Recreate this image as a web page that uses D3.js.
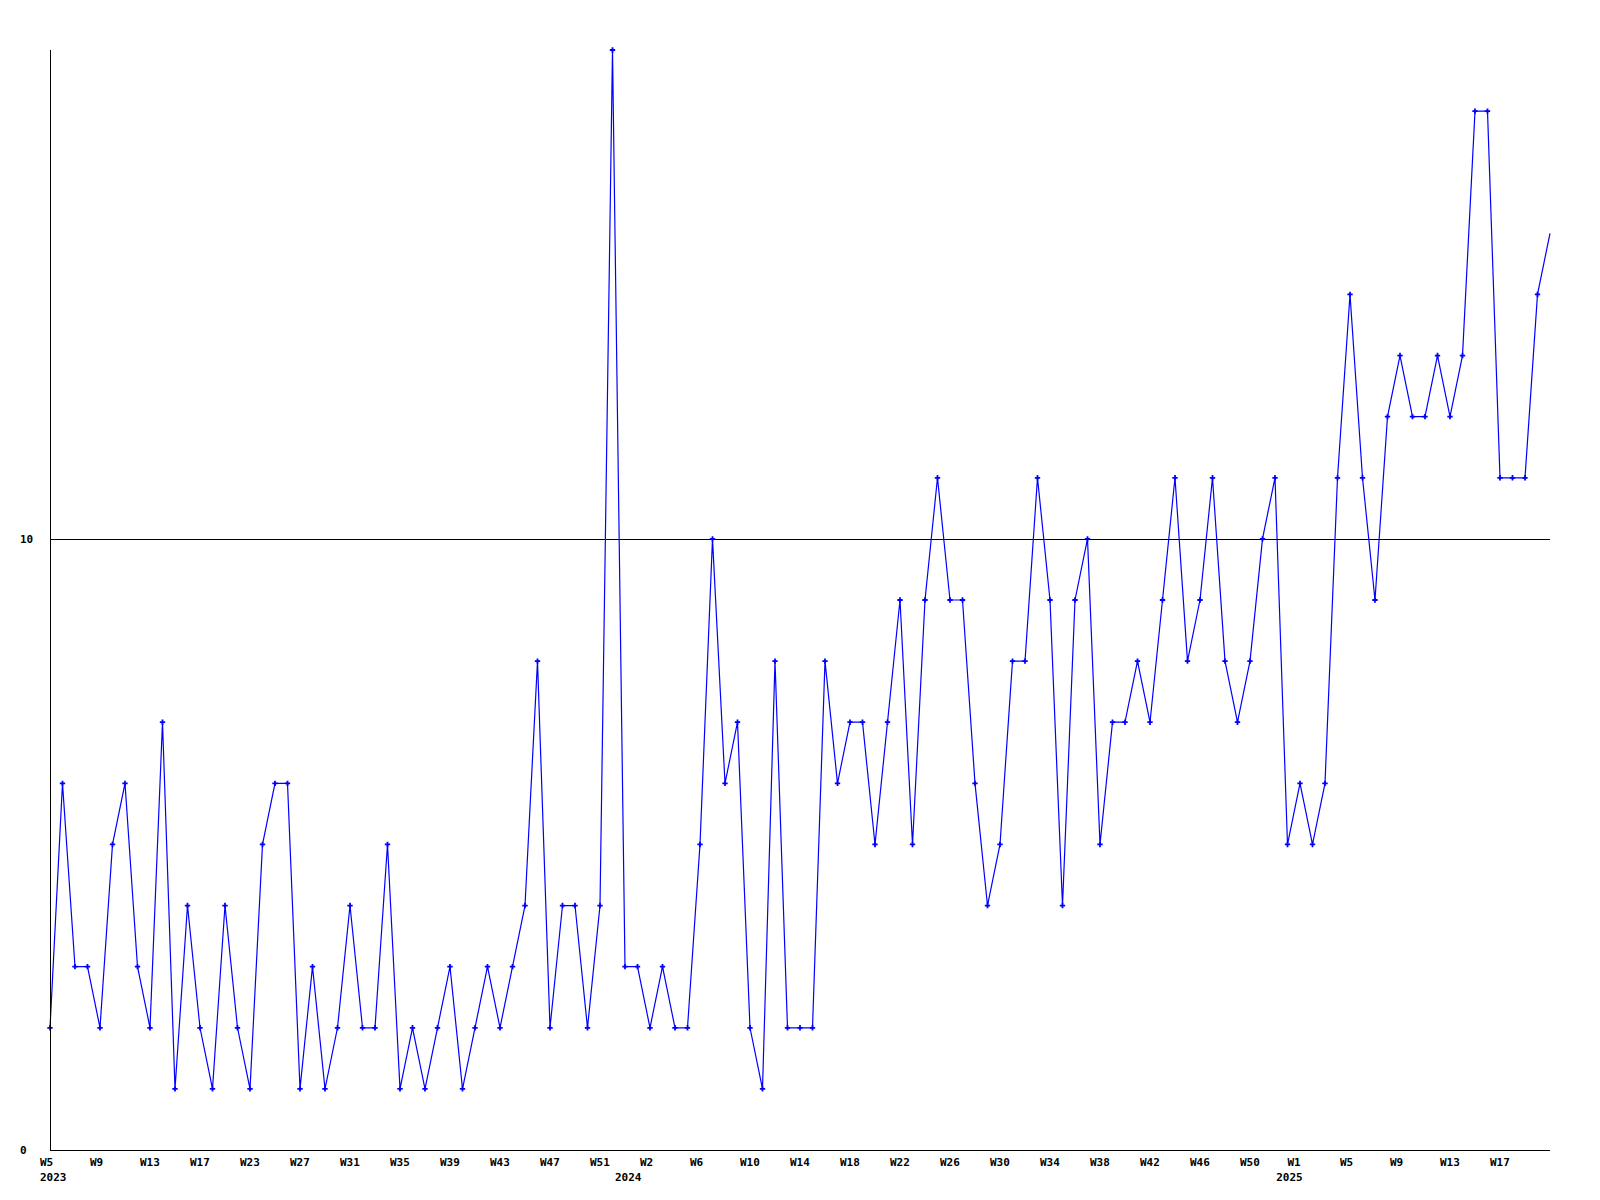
<!DOCTYPE html>
<html>
<head>
<meta charset="utf-8">
<script src="https://cdn.jsdelivr.net/npm/d3@7"></script>
<style>
  html, body { margin: 0; padding: 0; background: #ffffff; }
  svg { display: block; }
  text { font-family: "DejaVu Sans Mono", "Liberation Mono", monospace; font-weight: bold; font-size: 11px; fill: #000; }
</style>
</head>
<body>
<svg id="chart" width="1600" height="1200"></svg>
<script>
// weekly counts, one per point (the last one is the current, partial week)
const values = [
  2, 6, 3, 3, 2, 5, 6, 3, 2, 7, 1, 4, 2, 1, 4, 2, 1, 5, 6, 6,
  1, 3, 1, 2, 4, 2, 2, 5, 1, 2, 1, 2, 3, 1, 2, 3, 2, 3, 4, 8,
  2, 4, 4, 2, 4, 18, 3, 3, 2, 3, 2, 2, 5, 10, 6, 7, 2, 1, 8, 2,
  2, 2, 8, 6, 7, 7, 5, 7, 9, 5, 9, 11, 9, 9, 6, 4, 5, 8, 8, 11,
  9, 4, 9, 10, 5, 7, 7, 8, 7, 9, 11, 8, 9, 11, 8, 7, 8, 10, 11, 5,
  6, 5, 6, 11, 14, 11, 9, 12, 13, 12, 12, 13, 12, 13, 17, 17, 11, 11, 11, 14,
  15
];
// week tick labels and their point positions
const weekLabels = ["W5","W9","W13","W17","W23","W27","W31","W35","W39","W43","W47","W51",
                    "W2","W6","W10","W14","W18","W22","W26","W30","W34","W38","W42","W46","W50",
                    "W1","W5","W9","W13","W17"];
const weekPos = [0,4,8,12,16,20,24,28,32,36,40,44,
                 48,52,56,60,64,68,72,76,80,84,88,92,96,
                 99.8,104,108,112,116];
const yearLabels = ["2023","2024","2025"];
const yearPos = [0, 46, 98.9];
const yTicks = [0, 10];

(function () {
const svg = d3.select("#chart");
const mLeft = 50, mRight = 1550, mTop = 50, mBottom = 1150;

const x = d3.scaleLinear().domain([0, 120]).range([mLeft, mRight]);
const y = d3.scaleLinear().domain([0, 18]).range([mBottom, mTop]);

svg.append("defs").append("clipPath").attr("id", "plotclip")
  .append("rect").attr("x", mLeft - 6).attr("y", 0).attr("width", mRight - mLeft + 7).attr("height", 1200);

// horizontal gridline at 10
svg.selectAll("line.grid").data(yTicks.filter(d => d > 0)).enter().append("line")
  .attr("class", "grid")
  .attr("x1", mLeft).attr("x2", mRight)
  .attr("y1", d => Math.round(y(d)) + 0.5).attr("y2", d => Math.round(y(d)) + 0.5)
  .attr("stroke", "#000").attr("stroke-width", 1);

// y labels
svg.selectAll("text.ylab").data(yTicks).enter().append("text")
  .attr("class", "ylab")
  .attr("x", 20)
  .attr("y", d => y(d) + 4)
  .text(d => d);

// x labels
svg.selectAll("text.wlab").data(weekLabels).enter().append("text")
  .attr("class", "wlab")
  .attr("x", (d, i) => x(weekPos[i]) - 10)
  .attr("y", 1166)
  .text(d => d);
svg.selectAll("text.ylbl").data(yearLabels).enter().append("text")
  .attr("class", "ylbl")
  .attr("x", (d, i) => x(yearPos[i]) - 10)
  .attr("y", 1181)
  .text(d => d);

// data line
const g = svg.append("g").attr("clip-path", "url(#plotclip)");
const line = d3.line().x((d, i) => x(i)).y(d => y(d));
g.append("path").datum(values)
  .attr("d", line)
  .attr("fill", "none")
  .attr("stroke", "#0000ff")
  .attr("stroke-width", 1.2);

// markers (not on the last, partial week)
const cross = d3.symbol().type(d3.symbolCross).size(16);
g.selectAll("path.mk").data(values.slice(0, values.length - 1)).enter().append("path")
  .attr("class", "mk")
  .attr("d", cross)
  .attr("transform", (d, i) => `translate(${x(i)},${y(d)})`)
  .attr("fill", "#0000ff");

// axes
svg.append("line").attr("x1", mLeft + 0.5).attr("x2", mLeft + 0.5).attr("y1", mTop).attr("y2", mBottom)
  .attr("stroke", "#000").attr("stroke-width", 1);
svg.append("line").attr("x1", mLeft).attr("x2", mRight).attr("y1", mBottom + 0.5).attr("y2", mBottom + 0.5)
  .attr("stroke", "#000").attr("stroke-width", 1);
})();
</script>
</body>
</html>
